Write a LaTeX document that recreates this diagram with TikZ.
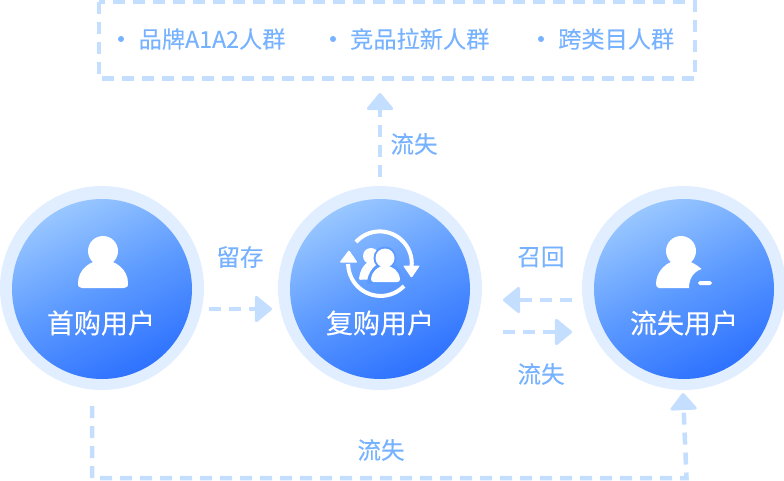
\documentclass[tikz,border=0pt]{standalone}
\usepackage{fontspec}
\setmainfont{Noto Sans CJK SC}[FakeBold=0.12]
\usetikzlibrary{arrows.meta}
\definecolor{dashc}{HTML}{C4DEFF}
\definecolor{ringc}{HTML}{E1EEFF}
\definecolor{labc}{HTML}{76B2FF}
\definecolor{gtop}{HTML}{98C6FF}
\definecolor{gbot}{HTML}{2E72FF}
\definecolor{gmid}{HTML}{5C9AFF}
\tikzset{
  x=1pt,y=-1pt,
  ringn/.style={circle,fill=ringc,minimum size=204pt,inner sep=0pt,outer sep=0pt},
  coren/.style={circle,minimum size=180pt,inner sep=0pt,outer sep=0pt,
     top color=gtop,bottom color=gbot,middle color=gmid,shading angle=26},
  title/.style={text=white,font=\fontsize{27}{27}\selectfont,inner sep=0pt},
  lab/.style={text=labc,font=\fontsize{23.5}{23.5}\selectfont,inner sep=0pt},
  item/.style={text=labc,font=\fontsize{23.2}{23.2}\selectfont,inner sep=0pt,anchor=west},
  dot/.style={circle,fill=labc,minimum size=6pt,inner sep=0pt},
  flow/.style={draw=dashc,line width=4.5pt,dash pattern=on 12pt off 8pt},
  flowa/.style={flow,-{Triangle[length=18pt,width=29pt,round,fill=dashc,sep=0pt,line width=3pt]}},
  ic/.style={fill=white,draw=none},
  icl/.style={draw=white,line width=4pt},
}
\begin{document}
\begin{tikzpicture}
\useasboundingbox (0,0) rectangle (784,480);
% circles
\node[ringn] (r1) at (102,288) {};
\node[ringn] (r2) at (380,288) {};
\node[ringn] (r3) at (684,288) {};
\node[coren] (c1) at (102,289) {};
\node[coren] (c2) at (380,289) {};
\node[coren] (c3) at (684,289) {};
\node[title] (t1) at (101,323) {首购用户};
\node[title] (t2) at (380,323) {复购用户};
\node[title] (t3) at (684,323) {流失用户};
% icon 1
\fill[ic] (103,251) circle (15);
\fill[ic] (78,283) .. controls (78,270) and (90,260) .. (103,260) .. controls (116,260) and (128,270) .. (128,283)
  .. controls (128,286.5) and (127,288) .. (124,288) -- (82,288) .. controls (79,288) and (78,286.5) .. (78,283) -- cycle;
% icon 2
\draw[icl] (356,242) arc[start angle=222,end angle=367,radius=32];
\draw[icl] (404,286) arc[start angle=44,end angle=179,radius=32.5];
\fill[ic,rounded corners=1pt] (403,265.5) -- (420,265.5) -- (411.5,278) -- cycle;
\fill[ic,rounded corners=1pt] (339.5,262.5) -- (357.5,262.5) -- (349,250) -- cycle;
\fill[ic] (371,256) circle (8);
\fill[ic] (359,279) .. controls (360,270) and (364,263) .. (371,261) .. controls (380,261) and (382,270) .. (380,280) -- (364,279.5) .. controls (361,280) and (359,280) .. (359,279) -- cycle;
\fill[gmid] (385,258) circle (11.5);
\fill[gmid] (367,284) .. controls (367,272) and (376,262) .. (385,262) .. controls (396,262) and (404,272) .. (404,284) -- cycle;
\fill[ic] (385,258) circle (9.5);
\fill[ic] (371,279) .. controls (372,271) and (378,266) .. (385,265.5) .. controls (393,266) and (399,271) .. (400,279)
  .. controls (400,281) and (399,282) .. (397,282) -- (374,282) .. controls (372,282) and (371,281) .. (371,279) -- cycle;
% icon 3
\fill[ic] (681,251) circle (15);
\fill[ic] (656,284) .. controls (656,272) and (666,260) .. (681,260) .. controls (689,260) and (696,264) .. (701.5,269)
  .. controls (693,272) and (689,279) .. (689,288) -- (659,288) .. controls (657,288) and (656,286) .. (656,284) -- cycle;
\fill[ic,rounded corners=1.8pt] (698,281) rectangle (712,285);
% top box
\coordinate (bx1) at (99,1.5);
\coordinate (bx2) at (695,78.5);
\draw[flow] (bx1) rectangle (bx2);
\node[dot] (d1) at (121,39) {};
\node[dot] (d2) at (333,39) {};
\node[dot] (d3) at (541,39) {};
\node[item] (i1) at (138.5,39) {品牌A1A2人群};
\node[item] (i2) at (350,39) {竞品拉新人群};
\node[item] (i3) at (558,39) {跨类目人群};
% connectors
\coordinate (a0) at (380,177);
\coordinate (a1) at (380,93);
\draw[flowa] (a0) -- (a1);
\coordinate (b0) at (209,309);
\coordinate (b1) at (272,309);
\draw[flowa] (b0) -- (b1);
\coordinate (e0) at (572,300);
\coordinate (e1) at (503,300);
\draw[flowa] (e0) -- (e1);
\coordinate (f0) at (503,332);
\coordinate (f1) at (572,332);
\draw[flowa] (f0) -- (f1);
\coordinate (g0) at (92,406);
\coordinate (g1) at (92,478);
\coordinate (g2) at (686.5,478);
\coordinate (g3) at (683,393);
\draw[flowa] (g0) -- (g1) -- (g2) -- (g3);
% labels
\node[lab] (l1) at (414,144) {流失};
\node[lab] (l2) at (240,257) {留存};
\node[lab] (l3) at (541,257) {召回};
\node[lab] (l4) at (541,374) {流失};
\node[lab] (l5) at (381,450) {流失};
\end{tikzpicture}
\end{document}
